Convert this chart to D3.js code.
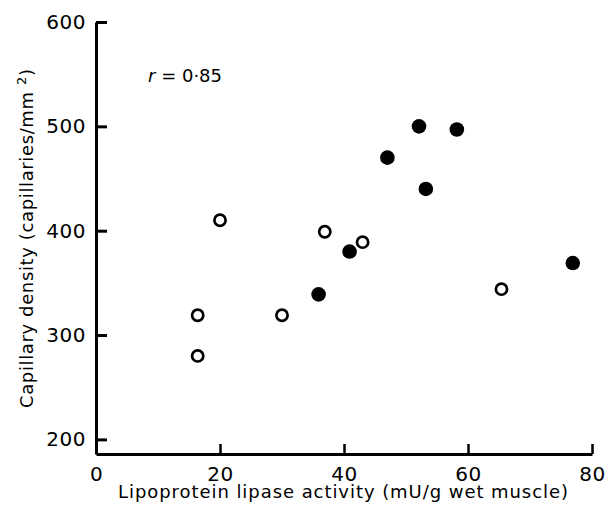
<!DOCTYPE html>
<html>
<head>
<meta charset="utf-8">
<script src="https://cdn.jsdelivr.net/npm/d3@7"></script>
<style>
  html, body { margin: 0; padding: 0; background: #fff; }
  svg { display: block; }
  text { font-family: "DejaVu Sans", sans-serif; fill: #000; }
</style>
</head>
<body>
<div id="chart"></div>
<script>
// ---- data ----
const openX = [16.4, 16.4, 20.0, 30.0, 36.9, 43.0, 65.4];
const openY = [319, 280, 410, 319, 399, 389, 344];
const filledX = [35.9, 40.9, 47.0, 52.1, 53.2, 58.2, 76.9];
const filledY = [339, 380, 470, 500, 440, 497, 369];
const xTicks = [0, 20, 40, 60, 80];
const yTicks = [200, 300, 400, 500, 600];
const xDomain = [0, 80];
const yDomain = [186, 600];
const xTitle = "Lipoprotein lipase activity (mU/g wet muscle)";
const yTitle = "Capillary density (capillaries/mm";
const rLabel = "0·85";

const W = 613, H = 512;
const svg = d3.select("#chart").append("svg").attr("width", W).attr("height", H);

const x = d3.scaleLinear().domain(xDomain).range([96, 592]);
const y = d3.scaleLinear().domain(yDomain).range([454, 22]);

// x axis
const xAxis = d3.axisBottom(x).tickValues(xTicks).tickSizeInner(-10).tickSizeOuter(0).tickPadding(8)
  .tickFormat(d3.format("d"));
const gx = svg.append("g").attr("transform", `translate(0,${y(yDomain[0])})`).call(xAxis);
gx.select(".domain").attr("stroke", "#000").attr("stroke-width", 3);
gx.selectAll(".tick line").attr("stroke", "#000").attr("stroke-width", 2.5);
gx.selectAll(".tick text").attr("font-size", 20).attr("font-family", "DejaVu Sans")
  .attr("letter-spacing", "0.5px").attr("y", 27).attr("dy", 0);

// y axis
const yAxis = d3.axisLeft(y).tickValues(yTicks).tickSizeInner(-11).tickSizeOuter(0).tickPadding(10)
  .tickFormat(d3.format("d"));
const gy = svg.append("g").attr("transform", `translate(${x(xDomain[0])},0)`).call(yAxis);
gy.select(".domain").attr("stroke", "#000").attr("stroke-width", 3);
gy.selectAll(".tick line").attr("stroke", "#000").attr("stroke-width", 3);
gy.selectAll(".tick text").attr("font-size", 20).attr("font-family", "DejaVu Sans").attr("letter-spacing", "0.5px");

// points
svg.append("g").selectAll("circle").data(openX.map((d, i) => [d, openY[i]])).join("circle")
  .attr("cx", d => x(d[0])).attr("cy", d => y(d[1])).attr("r", 5.6)
  .attr("fill", "#fff").attr("stroke", "#000").attr("stroke-width", 2.7);
svg.append("g").selectAll("circle").data(filledX.map((d, i) => [d, filledY[i]])).join("circle")
  .attr("cx", d => x(d[0])).attr("cy", d => y(d[1])).attr("r", 7.3)
  .attr("fill", "#000");

// x title
svg.append("text").attr("x", 118).attr("y", 498)
  .attr("font-size", 18).attr("textLength", 450).attr("lengthAdjust", "spacing").text(xTitle);

// y title
const yt = svg.append("text").attr("transform", "translate(33,408) rotate(-90)")
  .attr("font-size", 18).attr("textLength", 339).attr("lengthAdjust", "spacing");
yt.append("tspan").text(yTitle + " ");
yt.append("tspan").attr("dy", -7).attr("font-size", 13).text("2");
yt.append("tspan").attr("dy", 7).text(")");

// r label
const rt = svg.append("text").attr("x", 148).attr("y", 82).attr("font-size", 18);
rt.append("tspan").attr("font-style", "italic").text("r");
rt.append("tspan").text(" = " + rLabel);
</script>
</body>
</html>
